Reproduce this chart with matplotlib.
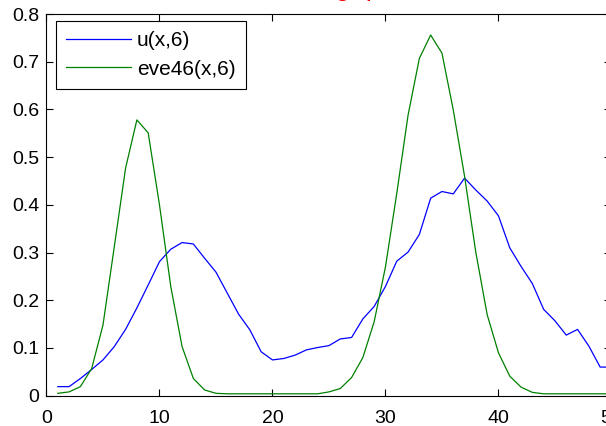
import matplotlib
matplotlib.use("Agg")
import matplotlib.pyplot as plt

plt.rcParams['font.family'] = ['Liberation Sans', 'DejaVu Sans']

# data, one value per grid point x = 1..50
x = list(range(1, 51))
u = [0.019, 0.019, 0.036, 0.055, 0.075, 0.103, 0.139, 0.184, 0.232, 0.281,
     0.307, 0.321, 0.318, 0.288, 0.259, 0.215, 0.171, 0.138, 0.092, 0.075,
     0.078, 0.085, 0.096, 0.101, 0.105, 0.119, 0.122, 0.161, 0.187, 0.229,
     0.282, 0.301, 0.338, 0.414, 0.428, 0.423, 0.456, 0.431, 0.408, 0.377,
     0.310, 0.271, 0.235, 0.181, 0.157, 0.127, 0.139, 0.104, 0.060, 0.060]
eve = [0.005, 0.008, 0.019, 0.057, 0.148, 0.312, 0.477, 0.578, 0.551, 0.400,
       0.229, 0.103, 0.036, 0.012, 0.005, 0.004, 0.004, 0.004, 0.004, 0.004,
       0.004, 0.004, 0.004, 0.004, 0.008, 0.015, 0.038, 0.080, 0.155, 0.270,
       0.424, 0.588, 0.707, 0.756, 0.718, 0.599, 0.460, 0.300, 0.170, 0.090,
       0.041, 0.018, 0.007, 0.004, 0.004, 0.004, 0.004, 0.004, 0.004, 0.004]
labels = ["u(x,6)", "eve46(x,6)"]
xticks = [0, 10, 20, 30, 40, 50]
yticks = [0, 0.1, 0.2, 0.3, 0.4, 0.5, 0.6, 0.7, 0.8]

fig = plt.figure(figsize=(6.06, 4.26), dpi=100)
ax = fig.add_axes([0.0767, 0.0711, 0.9323, 0.896])

ax.plot(x, u, color=(0, 0, 1), lw=0.9, label=labels[0])
ax.plot(x, eve, color=(0, 0.5, 0), lw=0.9, label=labels[1])

ax.set_xlim(0, 50)
ax.set_ylim(0, 0.8)
ax.set_xticks(xticks)
ax.set_yticks(yticks)
ax.set_yticklabels([f"{v:g}" for v in yticks])
ax.tick_params(direction='in', top=True, right=True, length=5, width=0.8,
               labelsize=14, color='black')
ax.tick_params(axis='x', pad=10)
ax.tick_params(axis='y', pad=5)
for s in ax.spines.values():
    s.set_linewidth(0.8)
    s.set_color('black')

leg = ax.legend(loc='upper left', bbox_to_anchor=(0.0163, 0.982), borderaxespad=0,
                fontsize=15, handlelength=3.1, handletextpad=0.3, labelspacing=0.45,
                borderpad=0.5, fancybox=False, framealpha=1, edgecolor='black')
leg.get_frame().set_linewidth(0.8)

# title sits above the visible area, only its descenders show
fig.text(0.629, 1.012, "Time 6: eve46 vs gap", color='red', fontsize=20,
         ha='right', va='baseline')

fig.savefig("out.png", dpi=100)
